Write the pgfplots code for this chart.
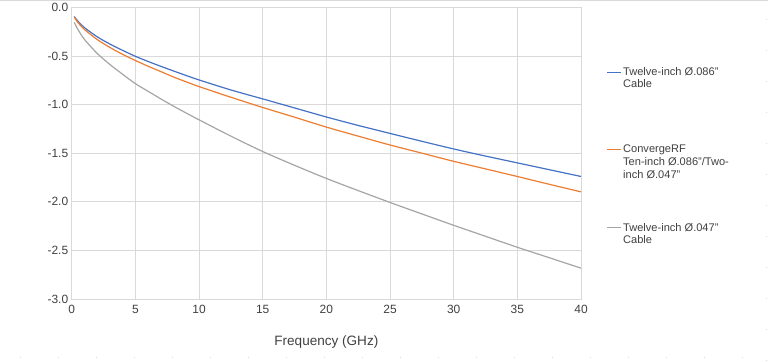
\documentclass[border=0pt]{standalone}
\usepackage{fontspec}
\setmainfont{Liberation Sans}
\usepackage{pgfplots}
\pgfplotsset{compat=1.18}
\definecolor{sblue}{HTML}{4472C4}
\definecolor{sorange}{HTML}{ED7D31}
\definecolor{sgray}{HTML}{A5A5A5}
\definecolor{gridc}{HTML}{D9D9D9}
\definecolor{txt}{HTML}{404040}
\newcommand{\legtext}[1]{\parbox[t]{130bp}{\raggedright\fontsize{11.1}{13}\selectfont #1}}
\begin{document}
\begin{tikzpicture}[x=1bp,y=1bp]
\useasboundingbox (0,0) rectangle (768,361);
\draw[gridc, line width=1bp] (0,360.5) -- (768,360.5);
\draw[gridc, line width=0.8bp, dash pattern=on 1bp off 37bp] (20,4) -- (768,4);
\draw[gridc, line width=0.8bp, dash pattern=on 1bp off 30bp] (766,0) -- (766,361);
\begin{axis}[
  at={(71.7bp,62bp)}, anchor=south west,
  scale only axis, width=509.3bp, height=291.7bp,
  xmin=0, xmax=40, ymin=-3, ymax=0,
  xtick={0,5,...,40}, ytick={-3,-2.5,...,0},
  major tick length=0pt,
  grid=major,
  grid style={gridc, line width=0.8bp},
  axis line style={gridc, line width=0.8bp},
  /pgf/number format/assume math mode=true,
  ticklabel style={font=\fontsize{12}{14}\selectfont, text=txt},
  yticklabel style={/pgf/number format/.cd, fixed, fixed zerofill, precision=1},
  xticklabel style={yshift=-3bp, /pgf/number format/.cd, fixed, precision=0},
  xlabel={Frequency (GHz)},
  xlabel style={font=\fontsize{13.6}{16}\selectfont, text=txt, yshift=-15bp},
  clip=true,
]
\addplot[sblue, line width=1.2bp, smooth] coordinates {
(0.2,-0.095) (0.5,-0.145) (1,-0.209) (2,-0.303) (3,-0.378) (4,-0.443) (5,-0.504)
(6,-0.557) (7,-0.607) (8,-0.655) (9,-0.702) (10,-0.747) (12.5,-0.85) (15,-0.942)
(17.5,-1.035) (20,-1.128) (22.5,-1.215) (25,-1.297) (27.5,-1.378) (30,-1.457)
(32.5,-1.53) (35,-1.60) (37.5,-1.67) (40,-1.74)};
\addplot[sorange, line width=1.2bp, smooth] coordinates {
(0.2,-0.10) (0.5,-0.159) (1,-0.228) (2,-0.331) (3,-0.413) (4,-0.484) (5,-0.547)
(6,-0.606) (7,-0.661) (8,-0.717) (9,-0.767) (10,-0.815) (12.5,-0.925) (15,-1.03)
(17.5,-1.13) (20,-1.232) (22.5,-1.325) (25,-1.416) (27.5,-1.50) (30,-1.584)
(32.5,-1.662) (35,-1.74) (37.5,-1.82) (40,-1.898)};
\addplot[sgray, line width=1.2bp, smooth] coordinates {
(0.2,-0.155) (0.5,-0.23) (1,-0.33) (2,-0.474) (3,-0.588) (4,-0.689) (5,-0.785)
(6,-0.864) (7,-0.942) (8,-1.017) (9,-1.088) (10,-1.157) (12.5,-1.325) (15,-1.483)
(17.5,-1.625) (20,-1.76) (22.5,-1.885) (25,-2.007) (27.5,-2.125) (30,-2.242)
(32.5,-2.355) (35,-2.468) (37.5,-2.575) (40,-2.683)};
\end{axis}
% legend
\begin{scope}[every node/.style={anchor=base west, inner sep=0pt, text=txt}]
\draw[sblue, line width=1.2bp] (607,288.7) -- (621,288.7);
\node at (623,286) {\legtext{Twelve-inch Ø.086"\\Cable}};
\draw[sorange, line width=1.2bp] (607,211.7) -- (621,211.7);
\node at (623,208.3) {\legtext{ConvergeRF\\Ten-inch Ø.086"/Two-\\inch Ø.047"}};
\draw[sgray, line width=1.2bp] (607,133.3) -- (621,133.3);
\node at (623,130) {\legtext{Twelve-inch Ø.047"\\Cable}};
\end{scope}
\end{tikzpicture}
\end{document}
